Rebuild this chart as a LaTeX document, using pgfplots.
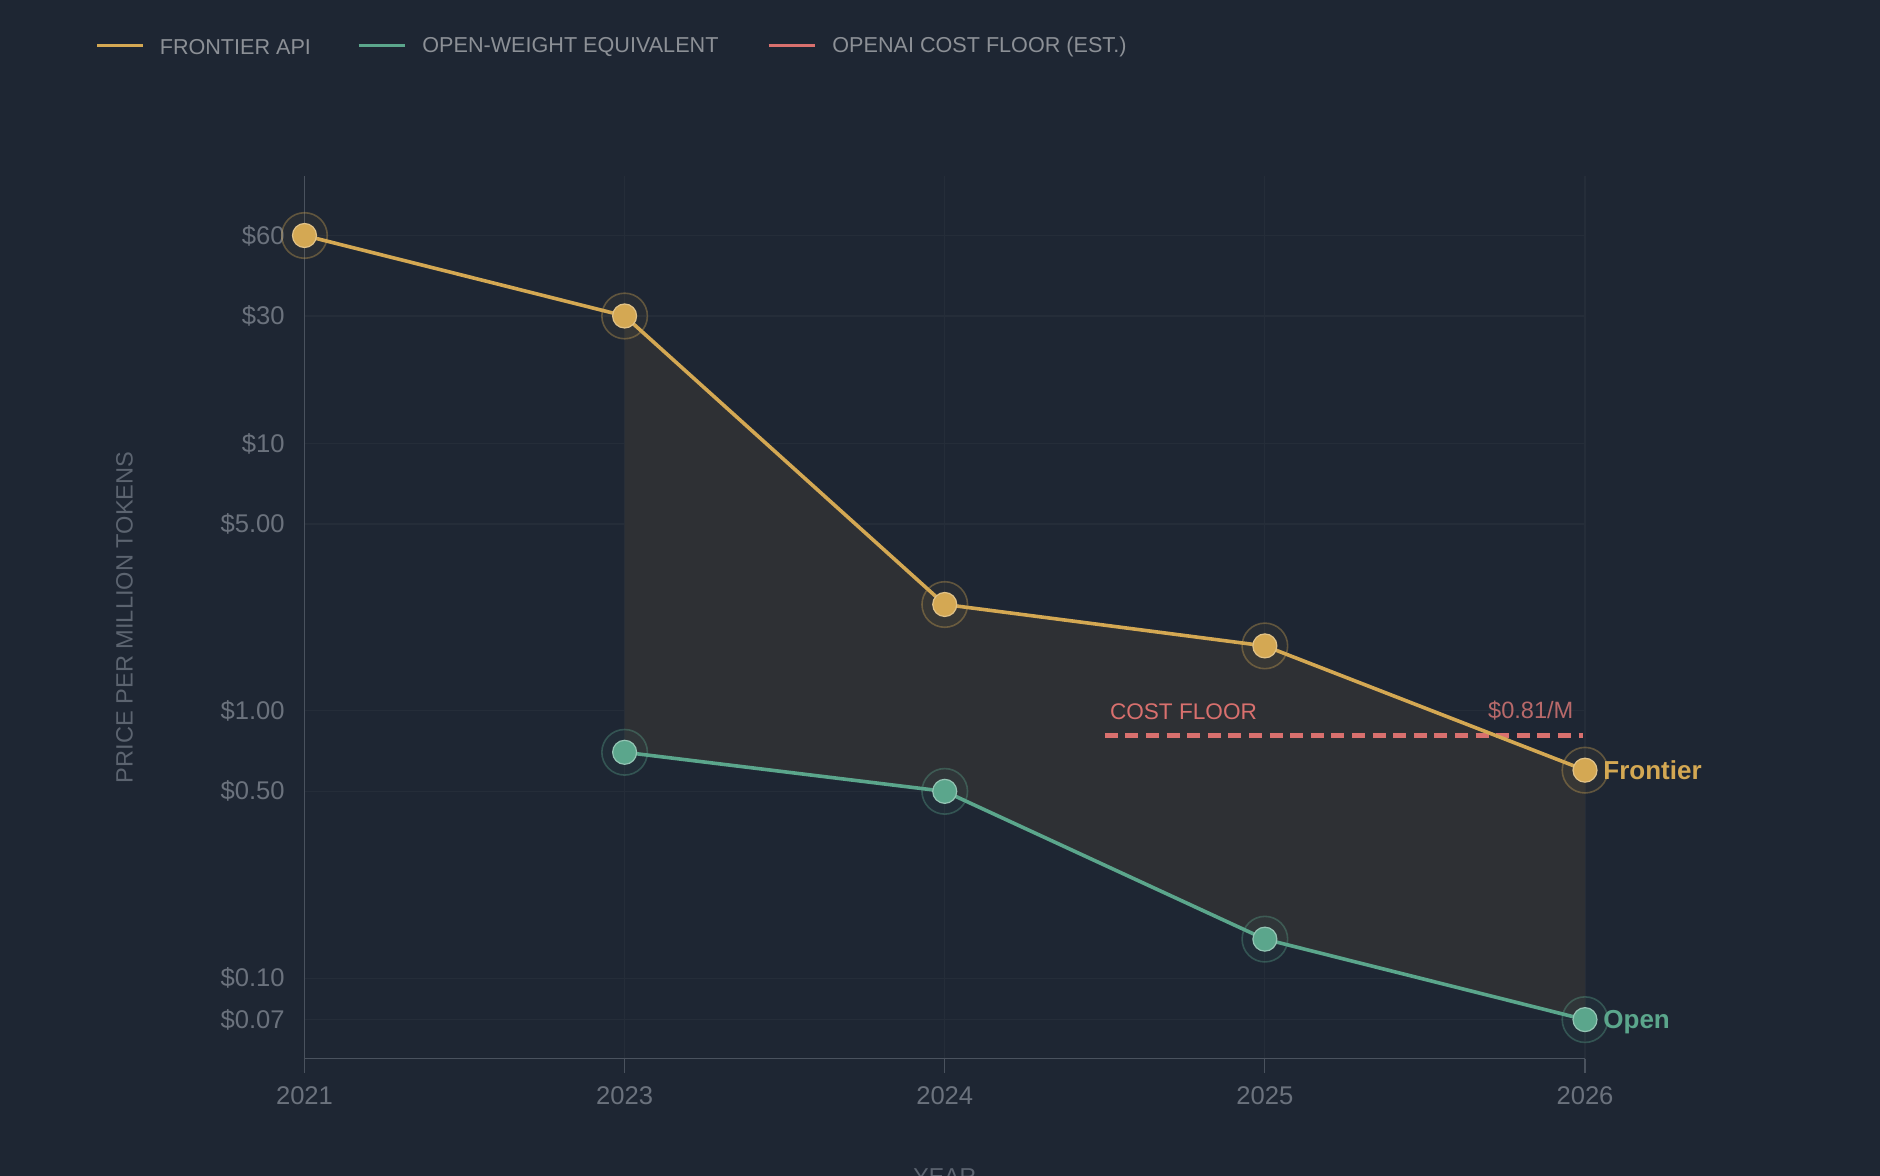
\documentclass[border=0pt]{standalone}
\usepackage{fontspec}
\setmainfont{Liberation Sans}
\usepackage{xcolor}
\usepackage{pgfplots}
\pgfplotsset{compat=1.18}
\usepgfplotslibrary{fillbetween}
\definecolor{bgc}{HTML}{1E2633}
\definecolor{fillc}{HTML}{2E3034}
\definecolor{frontc}{HTML}{D4A853}
\definecolor{openc}{HTML}{5BA68C}
\definecolor{costc}{HTML}{D9706E}
\definecolor{costlab}{HTML}{B8696A}
\definecolor{gridc}{HTML}{252D39}
\definecolor{axc}{HTML}{4A525E}
\definecolor{tickc}{HTML}{6B727D}
\definecolor{legc}{HTML}{8C9096}
\definecolor{ylabc}{HTML}{5C6470}
\pagecolor{bgc}
\begin{document}
\begin{tikzpicture}
\path (0,0) rectangle (940pt,588pt);
% legend
\draw[frontc, line width=1.8pt] (48.5pt,565.2pt) -- (71.4pt,565.2pt);
\node[anchor=west, inner sep=0pt, text=legc, font=\fontsize{10.8}{12}\selectfont] at (79.7pt,564.6pt) {FRONTIER API};
\draw[openc, line width=1.8pt] (179.3pt,565.2pt) -- (202.6pt,565.2pt);
\node[anchor=west, inner sep=0pt, text=legc, font=\fontsize{10.8}{12}\selectfont] at (211pt,564.6pt) {OPEN-WEIGHT EQUIVALENT};
\draw[costc, line width=1.8pt] (384.3pt,565.2pt) -- (407.7pt,565.2pt);
\node[anchor=west, inner sep=0pt, text=legc, font=\fontsize{10.8}{12}\selectfont] at (416pt,564.6pt) {OPENAI COST FLOOR (EST.)};
% axis titles
\node[rotate=90, text=ylabc, font=\fontsize{11.8}{13}\selectfont, inner sep=0pt] at (62.3pt,279.3pt) {PRICE PER MILLION TOKENS};
\node[anchor=north, text=ylabc, font=\fontsize{11.5}{13}\selectfont, inner sep=0pt] at (472.4pt,4.0pt) {YEAR};
\begin{axis}[
  at={(152.25pt,58.65pt)}, anchor=south west,
  scale only axis, width=640.25pt, height=441.25pt,
  ymode=log, ymin=0.05, ymax=100, xmin=0, xmax=4,
  clip=false,
  axis lines=left, axis line style={-, draw=axc, line width=0.8pt},
  xtick={0,1,2,3,4}, xticklabels={2021,2023,2024,2025,2026},
  ytick={0.07,0.1,0.5,1,5,10,30,60},
  yticklabels={\$0.07,\$0.10,\$0.50,\$1.00,\$5.00,\$10,\$30,\$60},
  minor ytick={},
  ytick style={draw=none}, xtick style={draw=axc, line width=0.6pt},
  tick align=outside, major tick length=7pt,
  xmajorgrids, ymajorgrids, major grid style={draw=gridc, line width=0.6pt},
  ticklabel style={text=tickc, font=\fontsize{12.8}{14}\selectfont},
  xticklabel style={yshift=-3.4pt},
  yticklabel style={xshift=0.6pt},
]
\addplot[name path=front, draw=none, forget plot] coordinates {(1,30) (2,2.5) (3,1.75) (4,0.6)};
\addplot[name path=open, draw=none, forget plot] coordinates {(1,0.7) (2,0.5) (3,0.14) (4,0.07)};
\addplot[fill=fillc, draw=none, forget plot] fill between[of=front and open];
% cost floor
\addplot[costc, line width=2.3pt, dash pattern=on 6.5pt off 3.8pt, forget plot] coordinates {(2.5,0.81) (3.995,0.81)};
\node[anchor=south west, text=costc, font=\fontsize{11.3}{13}\selectfont, inner sep=0pt] at (axis cs:2.515,0.92) {COST FLOOR};
\node[anchor=south east, text=costlab, font=\fontsize{11.8}{13}\selectfont, inner sep=0pt] at (axis cs:3.965,0.92) {\$0.81/M};
% lines
\addplot[frontc, line width=1.8pt] coordinates {(0,60) (1,30) (2,2.5) (3,1.75) (4,0.6)};
\addplot[openc, line width=1.8pt] coordinates {(1,0.7) (2,0.5) (3,0.14) (4,0.07)};
% halos
\addplot[only marks, mark=*, mark size=11.4pt, mark options={draw=frontc, draw opacity=0.35, line width=0.8pt, fill=frontc, fill opacity=0.06}] coordinates {(0,60) (1,30) (2,2.5) (3,1.75) (4,0.6)};
\addplot[only marks, mark=*, mark size=11.4pt, mark options={draw=openc, draw opacity=0.35, line width=0.8pt, fill=openc, fill opacity=0.06}] coordinates {(1,0.7) (2,0.5) (3,0.14) (4,0.07)};
\addplot[only marks, mark=*, mark size=6pt, mark options={draw=frontc!70!white, line width=0.6pt, fill=frontc}] coordinates {(0,60) (1,30) (2,2.5) (3,1.75) (4,0.6)};
\addplot[only marks, mark=*, mark size=6pt, mark options={draw=openc!65!white, line width=0.6pt, fill=openc}] coordinates {(1,0.7) (2,0.5) (3,0.14) (4,0.07)};
\node[anchor=base west, text=frontc, font=\fontsize{13}{15}\selectfont\bfseries, inner sep=0pt] at (axis cs:4,0.6) [xshift=9pt, yshift=-4.6pt] {Frontier};
\node[anchor=base west, text=openc, font=\fontsize{13}{15}\selectfont\bfseries, inner sep=0pt] at (axis cs:4,0.07) [xshift=9pt, yshift=-4.6pt] {Open};
\end{axis}
\pgfresetboundingbox
\path[use as bounding box] (0,0) rectangle (940pt,588pt);
\end{tikzpicture}
\end{document}
